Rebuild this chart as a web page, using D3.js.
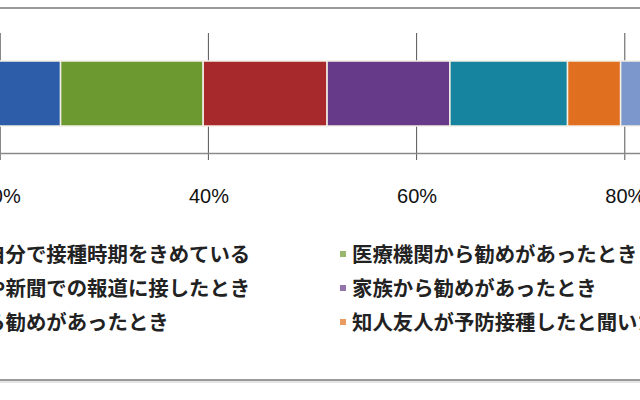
<!DOCTYPE html>
<html>
<head>
<meta charset="utf-8">
<script src="https://cdn.jsdelivr.net/npm/d3@7"></script>
<style>
  body { margin: 0; background: #fff; }
  svg { display: block; }
</style>
</head>
<body>
<div id="chart"></div>
<script>
// categories of the single stacked bar (answer options)
const categories = [
  "毎年、自分で接種時期をきめている",
  "医療機関から勧めがあったとき",
  "テレビや新聞での報道に接したとき",
  "家族から勧めがあったとき",
  "会社から勧めがあったとき",
  "知人友人が予防接種したと聞いたとき",
  "その他"
];
// share of answers in percent
const values = [25.8, 13.7, 11.9, 11.8, 11.3, 5.1, 20.4];
const colors = ["#2d5da8", "#6d9a30", "#a8292b", "#663a88", "#16849e", "#e0701f", "#7c97cc"];
const tickValues = [0, 20, 40, 60, 80, 100];
// legend entries that fit in the box
const legendCount = 6;

const width = 640;
const height = 400;

const svg = d3.select("#chart")
  .append("svg")
  .attr("width", width)
  .attr("height", height);

// the chart is cropped: 0% sits left of the window
const x = d3.scaleLinear().domain([0, 100]).range([-208, 833]);

// frame lines
svg.append("line")
  .attr("x1", 0).attr("x2", width)
  .attr("y1", 8).attr("y2", 8)
  .attr("stroke", "#9a9a9a").attr("stroke-width", 2);
svg.append("line")
  .attr("x1", 0).attr("x2", width)
  .attr("y1", 380).attr("y2", 380)
  .attr("stroke", "#9a9a9a").attr("stroke-width", 2);
svg.append("line")
  .attr("x1", 0).attr("x2", width)
  .attr("y1", 382).attr("y2", 382)
  .attr("stroke", "#dcdcdc").attr("stroke-width", 1.5);

// vertical gridlines
svg.selectAll("line.grid")
  .data(tickValues)
  .enter()
  .append("line")
    .attr("class", "grid")
    .attr("x1", function(d) { return x(d); })
    .attr("x2", function(d) { return x(d); })
    .attr("y1", 33)
    .attr("y2", 160)
    .attr("stroke", "#555")
    .attr("stroke-width", 1);

// axis line + labels
const axis = d3.axisBottom(x)
  .tickValues(tickValues)
  .tickSize(0)
  .tickPadding(50)
  .tickFormat(function(d) { return d + "%"; });

const gAxis = svg.append("g")
  .attr("transform", "translate(0,153)")
  .call(axis);
gAxis.select(".domain").attr("stroke", "#8a8a8a").attr("stroke-width", 1.5);
gAxis.selectAll("text")
  .attr("dy", "0")
  .attr("font-family", "'Liberation Sans', Arial, sans-serif")
  .attr("font-size", 20)
  .attr("fill", "#111");

// stacked bar
let acc = 0;
const segments = values.map(function(v, i) {
  const s = { start: acc, end: acc + v, color: colors[i], name: categories[i] };
  acc += v;
  return s;
});

svg.selectAll("rect.seg")
  .data(segments)
  .enter()
  .append("rect")
    .attr("class", "seg")
    .attr("x", function(d) { return x(d.start); })
    .attr("y", 61)
    .attr("width", function(d) { return x(d.end) - x(d.start); })
    .attr("height", 65)
    .attr("fill", function(d) { return d.color; })
    .attr("stroke", "#f4efe6")
    .attr("stroke-width", 1.5);

// legend, two columns filled row by row
const legendData = segments.slice(0, legendCount);
const legend = svg.selectAll("g.legend")
  .data(legendData)
  .enter()
  .append("g")
    .attr("class", "legend")
    .attr("transform", function(d, i) {
      const col = i % 2;
      const row = Math.floor(i / 2);
      return "translate(" + (-76 + col * 428) + "," + (255 + row * 34) + ")";
    });

legend.append("rect")
  .attr("x", -12)
  .attr("y", -4)
  .attr("width", 6)
  .attr("height", 6)
  .attr("fill", function(d) { return d.color; })
  .attr("opacity", 0.7);

legend.append("text")
  .attr("x", 0)
  .attr("y", 0)
  .attr("dy", "0.36em")
  .attr("font-family", "'Noto Sans CJK JP', sans-serif")
  .attr("font-size", 20.4)
  .attr("font-weight", "bold")
  .attr("fill", "#222")
  .text(function(d) { return d.name; });
</script>
</body>
</html>
